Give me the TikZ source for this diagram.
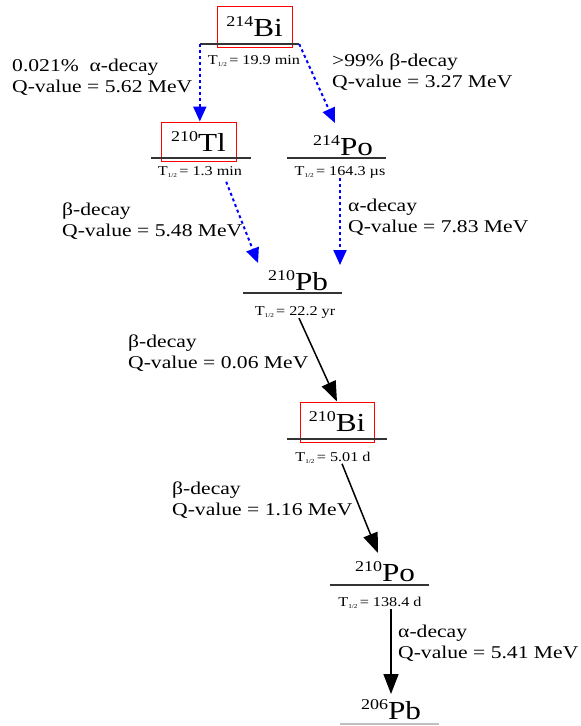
\documentclass[tikz,border=0pt]{standalone}
\usepackage{fontspec}
\setmainfont[FakeStretch=1.2]{Liberation Serif}
\usetikzlibrary{arrows.meta}

\newcommand{\nuc}[2]{{\fontsize{15}{15}\selectfont\raisebox{10pt}{#1}}#2}
\newcommand{\thalf}[1]{T\raisebox{-2.5pt}{\fontsize{6}{6}\selectfont 1/2}\,= #1}

\begin{document}
\begin{tikzpicture}[
    x=1pt, y=-1pt,
    nucl/.style={font=\fontsize{26}{26}\selectfont, inner sep=0pt, outer sep=5pt, anchor=base},
    redbox/.style={draw=red, line width=1pt, inner sep=0pt, font=\fontsize{26}{26}\selectfont},
    level/.style={minimum width=99pt, minimum height=0pt, inner sep=0pt},
    levelline/.style={line width=1.6pt, black!80},
    halflife/.style={font=\fontsize{13.5}{13.5}\selectfont, inner sep=0pt, anchor=base},
    decay/.style={font=\fontsize{18}{21}\selectfont, align=left, anchor=north west, inner sep=0pt},
    bluearr/.style={blue, line width=2pt, dash pattern=on 3pt off 3pt,
                    -{Triangle[length=15pt, width=13pt]}},
    blackarr/.style={black, line width=1.5pt, -{Triangle[length=20pt, width=15pt]}}
]
    \useasboundingbox (0,0) rectangle (581,726);

    % --- Nuclides ---
    \node[redbox, minimum width=75pt, minimum height=41pt] (biBox) at (254.5,26.5) {\nuc{214}{Bi}};
    \node[redbox, minimum width=75pt, minimum height=39pt] (tlBox) at (198.5,141.5) {\nuc{210}{Tl}};
    \node[nucl] (poN)  at (343,155) {\nuc{214}{Po}};
    \node[nucl] (pbN)  at (298,290) {\nuc{210}{Pb}};
    \node[redbox, minimum width=74pt, minimum height=40pt] (bi2Box) at (337,422) {\nuc{210}{Bi}};
    \node[nucl] (po2N) at (385,581) {\nuc{210}{Po}};
    \node[nucl] (pbfN) at (391,719) {\nuc{206}{Pb}};

    % --- Levels ---
    \node[level] (biL)  at (249.5,44)  {};
    \node[level] (tlL)  at (201,158)   {};
    \node[level] (poL)  at (336.5,158) {};
    \node[level] (pbL)  at (292.5,293) {};
    \node[level] (bi2L) at (337,439)   {};
    \node[level] (po2L) at (379.5,585) {};
    \node[level] (pbfL) at (389.5,724) {};
    \draw[levelline] (biL.west)  -- (biL.east);
    \draw[levelline] (tlL.west)  -- (tlL.east);
    \draw[levelline] (poL.west)  -- (poL.east);
    \draw[levelline] (pbL.west)  -- (pbL.east);
    \draw[levelline] (bi2L.west) -- (bi2L.east);
    \draw[levelline] (po2L.west) -- (po2L.east);
    \draw[levelline, black!25] (pbfL.west) -- (pbfL.east);

    % --- Half-lives ---
    \node[halflife] (biH)  at (254,64)  {\thalf{19.9 min}};
    \node[halflife] (tlH)  at (200,175) {\thalf{1.3 min}};
    \node[halflife] (poH)  at (340,175) {\thalf{164.3 µs}};
    \node[halflife] (pbH)  at (295,315) {\thalf{22.2 yr}};
    \node[halflife] (bi2H) at (333,461) {\thalf{5.01 d}};
    \node[halflife] (po2H) at (380,606) {\thalf{138.4 d}};

    % --- Decays ---
    \draw[bluearr] (biL.west) -- (biL.west |- tlBox.north);
    \draw[bluearr] (biL.east) -- ([xshift=-8pt, yshift=7pt]poN.north);
    \draw[bluearr] ([xshift=-16pt, yshift=-4pt]tlH.south east) -- ([xshift=-5pt, yshift=2pt]pbN.north west);
    \draw[bluearr] (poH.south) -- (poH.south |- pbN.north);
    \draw[blackarr] ([xshift=4pt]pbH.south) -- (bi2Box.north);
    \draw[blackarr] ([xshift=9pt]bi2H.south) -- ([xshift=-7pt, yshift=3pt]po2N.north);
    \draw[blackarr] (pbfN.north |- po2H.south) -- (pbfN.north);

    % --- Labels ---
    \node[decay] (a1) at (12,59)   {0.021\%\ \ α-decay\\Q-value = 5.62 MeV};
    \node[decay] (b1) at (332,54)  {>99\% β-decay\\Q-value = 3.27 MeV};
    \node[decay] (b2) at (62,203)  {β-decay\\Q-value = 5.48 MeV};
    \node[decay] (a2) at (348,199) {α-decay\\Q-value = 7.83 MeV};
    \node[decay] (b3) at (128,335) {β-decay\\Q-value = 0.06 MeV};
    \node[decay] (b4) at (172,482) {β-decay\\Q-value = 1.16 MeV};
    \node[decay] (a3) at (398,625) {α-decay\\Q-value = 5.41 MeV};
\end{tikzpicture}
\end{document}
